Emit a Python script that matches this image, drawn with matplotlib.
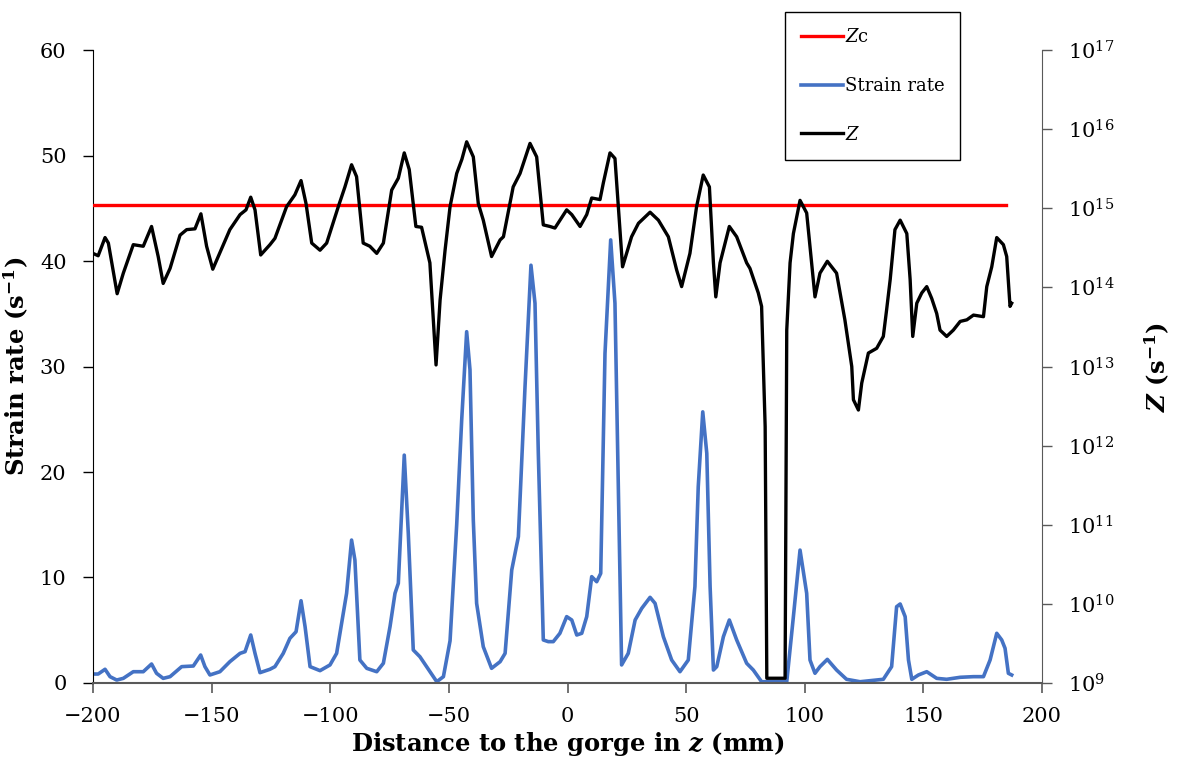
import numpy as np
import matplotlib
matplotlib.use("Agg")
import matplotlib.pyplot as plt

plt.rcParams['font.family'] = ['DejaVu Serif']
plt.rcParams['mathtext.fontset'] = 'custom'
plt.rcParams['mathtext.rm'] = 'DejaVu Serif'
plt.rcParams['mathtext.it'] = 'DejaVu Serif:italic'
plt.rcParams['mathtext.bf'] = 'DejaVu Serif:bold'
plt.rcParams['mathtext.bfit'] = 'DejaVu Serif:italic:bold'

# Strain rate (s-1) vs distance z (mm)
pos_sr = [-200.0, -197.8, -194.9, -192.8, -190.0, -187.2, -183.0, -178.8, -175.3, -173.2,
          -170.4, -167.5, -162.6, -157.7, -154.6, -152.8, -150.7, -146.5, -142.3, -138.0,
          -135.9, -133.5, -131.7, -129.6, -125.4, -123.3, -119.8, -117.0, -114.4, -112.3,
          -110.6, -108.5, -104.3, -100.1, -97.3, -94.5, -93.1, -91.0, -89.6, -87.5,
          -84.6, -80.4, -77.6, -74.8, -72.7, -71.3, -68.8, -67.1, -65.0, -62.2,
          -59.4, -55.1, -52.3, -49.5, -46.7, -44.6, -42.5, -41.1, -39.7, -38.3,
          -35.5, -32.0, -28.4, -26.3, -23.5, -20.7, -17.9, -15.4, -13.7, -12.3,
          -10.2, -8.1, -6.0, -3.2, -0.35, 1.8, 3.9, 6.0, 8.1, 10.2,
          12.3, 14.0, 15.8, 18.2, 20.0, 21.4, 22.8, 25.6, 28.5, 31.3,
          34.8, 36.9, 40.4, 43.9, 47.4, 50.9, 53.7, 55.1, 57.0, 58.7,
          60.1, 61.5, 62.9, 65.7, 68.2, 71.3, 75.5, 78.3, 81.8, 92.4,
          95.2, 98.0, 100.8, 102.2, 104.3, 106.4, 109.5, 113.4, 117.6, 123.3,
          133.1, 136.6, 138.7, 140.2, 142.3, 143.7, 145.1, 147.9, 151.4, 155.6,
          159.8, 165.5, 171.1, 175.3, 178.1, 180.9, 183.0, 184.4, 185.8, 187.2]
strain_rate = [0.85, 0.85, 1.30, 0.60, 0.28, 0.44, 1.07, 1.07, 1.80, 0.92,
               0.44, 0.60, 1.55, 1.61, 2.65, 1.55, 0.76, 1.07, 2.02, 2.81,
               2.97, 4.55, 2.81, 0.98, 1.30, 1.55, 2.81, 4.23, 4.86, 7.80,
               5.34, 1.55, 1.17, 1.71, 2.81, 6.61, 8.50, 13.55, 11.66, 2.18,
               1.39, 1.07, 1.87, 5.34, 8.50, 9.45, 21.6, 14.19, 3.13, 2.49,
               1.55, 0.12, 0.60, 4.00, 15.0, 24.9, 33.3, 29.7, 15.45, 7.55,
               3.44, 1.39, 2.02, 2.81, 10.71, 13.87, 28.1, 39.6, 36.0, 21.77,
               4.08, 3.92, 3.92, 4.71, 6.29, 5.97, 4.55, 4.71, 6.29, 10.08,
               9.60, 10.39, 31.24, 42.0, 36.0, 18.6, 1.71, 2.81, 5.97, 7.08,
               8.12, 7.55, 4.39, 2.18, 1.07, 2.18, 9.13, 18.6, 25.7, 21.77,
               9.13, 1.23, 1.55, 4.39, 5.97, 4.08, 1.87, 1.23, 0.12, 0.12,
               6.29, 12.6, 8.50, 2.18, 0.92, 1.55, 2.24, 1.23, 0.35, 0.12,
               0.35, 1.55, 7.23, 7.49, 6.29, 2.18, 0.35, 0.76, 1.07, 0.44,
               0.35, 0.54, 0.60, 0.60, 2.18, 4.71, 4.08, 3.29, 0.92, 0.76]

# Zener-Hollomon parameter Z (log10 of s-1)
pos_z = [-200.0, -197.8, -194.9, -193.5, -189.8, -187.2, -183.0, -178.8, -175.3, -172.5,
         -170.4, -167.5, -163.3, -160.5, -157.0, -154.5, -152.1, -149.5, -147.2, -142.3,
         -138.0, -135.5, -133.5, -131.7, -129.3, -125.4, -123.3, -118.4, -114.9, -112.3,
         -110.2, -107.8, -104.3, -101.5, -96.6, -93.8, -91.0, -88.9, -86.1, -83.3,
         -80.4, -77.6, -74.1, -71.3, -68.8, -66.7, -63.9, -61.5, -58.0, -55.4,
         -53.7, -51.6, -49.5, -46.7, -44.5, -42.5, -39.7, -37.6, -35.5, -32.0,
         -28.4, -27.0, -22.9, -20.0, -15.8, -13.0, -10.2, -7.4, -5.3, -0.35,
         1.8, 5.3, 8.1, 10.2, 13.7, 15.1, 17.9, 20.0, 22.1, 23.2,
         27.0, 29.9, 34.8, 38.3, 42.5, 46.0, 48.1, 51.6, 54.4, 57.2,
         59.8, 61.5, 62.5, 64.3, 68.2, 71.3, 75.5, 76.9, 80.4, 81.8,
         83.3, 84.0, 91.7, 92.4, 93.8, 95.2, 98.0, 100.8, 102.2, 104.3,
         106.4, 109.5, 113.4, 116.9, 119.8, 120.5, 122.6, 124.0, 126.8, 130.3,
         133.1, 134.5, 136.0, 138.0, 140.2, 143.0, 144.4, 145.5, 147.2, 149.3,
         151.4, 153.5, 155.6, 157.0, 159.8, 162.6, 165.5, 168.3, 171.1, 175.3,
         176.7, 178.8, 180.9, 183.7, 185.1, 186.5, 187.2]
logz = [14.43, 14.40, 14.63, 14.56, 13.92, 14.18, 14.54, 14.52, 14.77, 14.39,
        14.05, 14.24, 14.66, 14.73, 14.74, 14.93, 14.52, 14.23, 14.39, 14.73,
        14.92, 14.98, 15.14, 14.98, 14.41, 14.54, 14.62, 15.02, 15.17, 15.35,
        15.06, 14.56, 14.47, 14.56, 15.02, 15.27, 15.55, 15.40, 14.56, 14.52,
        14.43, 14.56, 15.23, 15.38, 15.70, 15.49, 14.77, 14.76, 14.31, 13.02,
        13.84, 14.47, 15.02, 15.44, 15.62, 15.84, 15.65, 15.06, 14.85, 14.39,
        14.60, 14.64, 15.27, 15.44, 15.82, 15.65, 14.79, 14.77, 14.75, 14.98,
        14.92, 14.77, 14.92, 15.13, 15.11, 15.32, 15.70, 15.63, 14.73, 14.26,
        14.64, 14.81, 14.95, 14.85, 14.64, 14.22, 14.01, 14.43, 15.02, 15.42,
        15.27, 14.31, 13.88, 14.31, 14.77, 14.64, 14.31, 14.24, 13.93, 13.76,
        12.24, 9.06, 9.06, 13.46, 14.31, 14.68, 15.10, 14.94, 14.52, 13.88,
        14.18, 14.33, 14.18, 13.59, 13.00, 12.58, 12.45, 12.79, 13.17, 13.23,
        13.38, 13.72, 14.10, 14.73, 14.85, 14.68, 14.10, 13.38, 13.80, 13.93,
        14.01, 13.86, 13.67, 13.46, 13.38, 13.46, 13.57, 13.59, 13.65, 13.63,
        14.01, 14.26, 14.63, 14.54, 14.39, 13.76, 13.80]
Z = 10 ** np.array(logz)

# critical Z
pos_zc = [-200, 185]
zc = [1.1e15, 1.1e15]

fig = plt.figure(figsize=(11.78, 7.65), dpi=100)
ax1 = fig.add_axes([0.0789, 0.1072, 0.8057, 0.8274])
ax2 = ax1.twinx()

blue, = ax1.plot(pos_sr, strain_rate, color='#4472C4', lw=2.6, solid_joinstyle='round')
red, = ax2.plot(pos_zc, zc, color='#FF0000', lw=2.4)
black, = ax2.plot(pos_z, Z, color='black', lw=2.4, solid_joinstyle='round')

ax1.set_xlim(-200, 200)
ax1.set_ylim(0, 60)
ax1.set_xticks(np.arange(-200, 201, 50))
ax1.set_yticks(np.arange(0, 61, 10))
ax2.set_yscale('log')
ax2.set_ylim(1e9, 1e17)
ax2.set_yticks([10.0 ** k for k in range(9, 18)])
ax2.minorticks_off()

for ax in (ax1, ax2):
    ax.spines['top'].set_visible(False)
ax1.spines['right'].set_visible(False)
ax2.spines['left'].set_visible(False)
ax2.spines['bottom'].set_visible(False)
ax1.spines['bottom'].set_color('#595959')
ax1.spines['bottom'].set_linewidth(1.5)
ax2.spines['right'].set_color('#595959')
ax1.tick_params(axis='x', direction='out', length=7, width=1.2, color='#595959', labelsize=15, pad=10)
ax1.tick_params(axis='y', direction='out', length=7, width=1.0, labelsize=15, pad=12)
ax2.tick_params(axis='y', direction='out', length=7, width=1.0, color='#595959', labelsize=15, pad=12)

ax1.set_xlabel(r'Distance to the gorge in $\mathbfit{z}$ (mm)', fontsize=17.5, fontweight='bold', labelpad=3)
ax1.set_ylabel(r'Strain rate (s$^{\mathbf{-1}}$)', fontsize=17.5, fontweight='bold', labelpad=6)
ax2.set_ylabel(r'$\mathbfit{Z}$ (s$^{\mathbf{-1}}$)', fontsize=17.5, fontweight='bold', labelpad=20)

leg = fig.legend([red, blue, black], [r'$Z$c', 'Strain rate', r'$Z$'],
                 loc='upper left', bbox_to_anchor=(0.6664, 0.9843), fontsize=13,
                 frameon=True, fancybox=False, edgecolor='black', framealpha=1,
                 handlelength=2.3, handletextpad=0.1, labelspacing=1.7, borderpad=0.9,
                 borderaxespad=0)
leg.get_frame().set_linewidth(1.0)

fig.savefig('out.png', dpi=100)
